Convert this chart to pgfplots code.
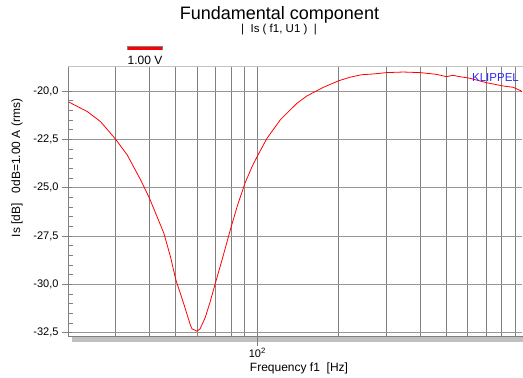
\documentclass[border=0pt]{standalone}
\usepackage{fontspec}
\setmainfont{Liberation Sans}
\usepackage{pgfplots}
\pgfplotsset{compat=1.18}
\definecolor{gridc}{RGB}{128,128,128}
\definecolor{hgridc}{RGB}{150,150,150}
\definecolor{topc}{RGB}{195,195,195}
\definecolor{shadowc}{RGB}{192,192,192}
\definecolor{klip}{RGB}{40,40,255}
\begin{document}
\begin{tikzpicture}[x=1pt,y=1pt]
\path[use as bounding box] (0,0) rectangle (523,378);
\fill[shadowc] (72,36) rectangle (523,42);
\begin{axis}[
  at={(68pt,42pt)}, anchor=south west, scale only axis,
  width=454pt, height=269pt,
  xmode=log, xmin=20, xmax=950, ymin=-32.67, ymax=-18.76,
  axis line style={draw=none},
  tick pos=left,
  xtick={100}, xticklabels={10\textsuperscript{2}},
  minor xtick={30,40,50,60,70,80,90,200,300,400,500,600,700,800,900},
  ytick={-32.5,-30,-27.5,-25,-22.5,-20},
  minor y tick num=4,
  xmajorgrids, xminorgrids, ymajorgrids,
  x grid style={gridc, line width=1pt},
  y grid style={hgridc, line width=0.9pt},
  tick align=outside, major tick length=10pt, minor tick length=5pt,
  tick style={gridc, line width=0.8pt},
  minor y tick style={xshift=5pt},
  major y tick style={xshift=4pt},
  minor x tick style={draw=none},
  /pgf/number format/assume math mode=true,
  yticklabel style={xshift=4pt, /pgf/number format/.cd, fixed, fixed zerofill, precision=1, use comma},
  xticklabel style={yshift=1pt},
  ticklabel style={font=\fontsize{11}{12}\selectfont},
  clip=true,
]
\addplot[red, line width=0.8pt] coordinates {
(20,-20.55) (23.6,-21.07) (26.4,-21.59) (30,-22.5) (33.1,-23.31) (37.1,-24.6)
(40,-25.55) (45.2,-27.36) (47.8,-28.57) (50,-29.75) (53.5,-31.0) (56.6,-32.1)
(57.4,-32.3) (59.9,-32.42) (61.5,-32.3) (64.3,-31.7) (67,-30.9) (70,-29.95)
(74.1,-28.74) (79.5,-27.19) (84.2,-25.99) (90,-24.78) (95.6,-23.92) (100.6,-23.31)
(108.6,-22.45) (121.5,-21.5) (140,-20.64) (152.4,-20.26) (175.5,-19.81) (200,-19.47)
(220,-19.29) (243,-19.16) (268.8,-19.12) (300,-19.05) (346,-19.02) (400,-19.05)
(459,-19.14) (500,-19.26) (528,-19.19) (560,-19.26) (609,-19.34) (702,-19.57)
(808,-19.74) (881,-19.81) (939,-19.98) (950,-20.05)
};
\end{axis}
\draw[gridc, line width=1pt] (68,42) -- (68,311);
\draw[gridc, line width=0.9pt] (68,42) -- (523,42);
\draw[topc, line width=1pt] (68,311) -- (523,311);
\fill[gray] (127,327.7) rectangle (162.5,331.8);
\fill[red] (127.5,328.2) rectangle (162,331.3);
\node[font=\fontsize{12}{14}\selectfont] at (145,317.5) {1.00 V};
\node[font=\fontsize{18}{21}\selectfont] at (279.5,363.5) {Fundamental component};
\node[font=\fontsize{11.5}{13}\selectfont] at (279,348) {|\ \ Is ( f1, U1 )\ \ |};
\node[font=\fontsize{12}{14}\selectfont] at (299,10) {Frequency f1\ \ [Hz]};
\node[font=\fontsize{12}{14}\selectfont, rotate=90] at (17,210) {Is [dB]\ \ \ 0dB=1.00 A (rms)};
\node[font=\fontsize{11.5}{13}\selectfont, text=klip] at (495.5,300.5) {KLIPPEL};
\end{tikzpicture}
\end{document}
